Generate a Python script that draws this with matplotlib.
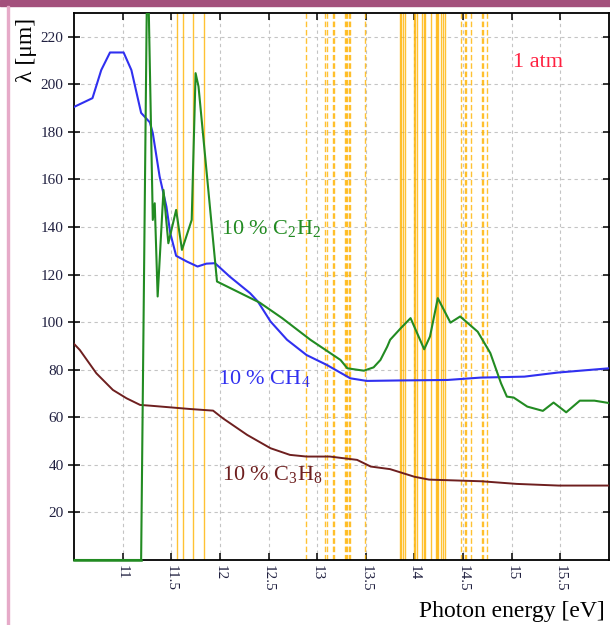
import matplotlib
matplotlib.use('Agg')
import matplotlib.pyplot as plt
from matplotlib.patches import Rectangle
import numpy as np

plt.rcParams['font.family'] = ['Liberation Serif', 'DejaVu Serif']
plt.rcParams['mathtext.fontset'] = 'custom'
plt.rcParams['mathtext.rm'] = 'Liberation Serif'

# 10 % CH4 (blue)
ch4_x = [10.5, 10.69, 10.78, 10.87, 11.01, 11.09, 11.19, 11.28, 11.31, 11.38, 11.45, 11.49,
         11.55, 11.66, 11.77, 11.86, 11.95, 12.1, 12.31, 12.39, 12.52, 12.69, 12.89, 13.1,
         13.34, 13.51, 13.86, 14.34, 14.68, 15.13, 15.47, 16.0]
ch4_y = [190.5, 194.2, 206, 213.4, 213.4, 206, 188, 184, 179.5, 161.3, 148.6, 137.4,
         127.9, 125.5, 123.4, 124.6, 124.8, 119.2, 112.2, 108.7, 100.3, 92.6, 86.2, 82,
         76.4, 75.3, 75.5, 75.7, 76.7, 77.1, 78.8, 80.6]

# 10 % C2H2 (green)
c2h2_x = [10.5, 11.19, 11.255, 11.31, 11.33, 11.36, 11.42, 11.47, 11.55, 11.61, 11.71, 11.75,
          11.78, 11.97, 12.41, 12.64, 12.93, 13.24, 13.31, 13.48, 13.58, 13.65, 13.72, 13.75,
          13.86, 13.96, 14.1, 14.16, 14.24, 14.37, 14.47, 14.65, 14.78, 14.89, 14.95, 15.02,
          15.16, 15.32, 15.43, 15.56, 15.7, 15.85, 16.0]
c2h2_y = [0, 0, 260, 143, 150, 110.8, 155.6, 133.2, 147.2, 130.4, 143, 204.7,
          199.1, 117.1, 108.2, 101.7, 92.6, 84.1, 80.6, 79.6, 81, 84.1, 89.7, 92.6,
          97.5, 101.7, 88.6, 94, 110.1, 99.8, 102.4, 96, 87, 74.3, 68.7, 68.3,
          64.5, 62.7, 66.2, 62.1, 67, 67, 66]

# 10 % C3H8 (brown)
c3h8_x = [10.5, 10.56, 10.73, 10.9, 11.04, 11.18, 11.28, 11.69, 11.93, 12.03, 12.28, 12.52,
          12.72, 12.89, 13.13, 13.41, 13.55, 13.75, 14.0, 14.15, 14.69, 15.05, 15.48, 16.0]
c3h8_y = [90.9, 88.3, 78.5, 71.5, 68, 65.2, 64.9, 63.5, 62.8, 59.6, 52.6, 47,
          44.2, 43.5, 43.5, 42.1, 39.3, 38.2, 35, 33.8, 33.1, 32, 31.3, 31.3]

# line positions (eV)
solid_lines = [11.56, 11.62, 11.725, 11.84,
               13.848, 13.863, 13.884, 13.907, 13.993, 14.01, 14.028, 14.079, 14.096, 14.107,
               14.165, 14.22, 14.234, 14.247, 14.268, 14.292, 14.312]
dashed_lines = [12.89, 13.08, 13.10, 13.16, 13.175, 13.29, 13.30, 13.31, 13.325, 13.335, 13.49,
                14.474, 14.519, 14.533, 14.58, 14.69, 14.704, 14.742]

xticks = [11, 11.5, 12, 12.5, 13, 13.5, 14, 14.5, 15, 15.5]
xtick_labels = ['11', '11.5', '12', '12.5', '13', '13.5', '14', '14.5', '15', '15.5']
yticks = [20, 40, 60, 80, 100, 120, 140, 160, 180, 200, 220]

fig = plt.figure(figsize=(6.1, 6.25), dpi=100)
ax = fig.add_axes([74/610, 65/625, 535/610, 547/625])

# slide frame
fig.patches.append(Rectangle((0, 1 - 6/625), 1, 6/625, transform=fig.transFigure,
                             color='#a3507c', zorder=0))
fig.patches.append(Rectangle((7/610, 0), 1.5/610, 1 - 6/625, transform=fig.transFigure,
                             color='#e6aac8', zorder=0))

for xv in solid_lines:
    ax.axvline(xv, color='#ffb300', lw=1.0, alpha=0.8, zorder=2)
for xv in dashed_lines:
    ax.axvline(xv, color='#ffb300', lw=1.0, alpha=0.8, ls=(0, (4, 2)), zorder=2)

ax.plot(c3h8_x, c3h8_y, color='#6e1f1f', lw=1.4, zorder=3)
ax.plot(ch4_x, ch4_y, color='#3030f0', lw=1.5, zorder=4)
ax.plot(c2h2_x, c2h2_y, color='#228b22', lw=1.5, zorder=5)
# flat zero part sits on the bottom spine
ax.plot(c2h2_x[:2], c2h2_y[:2], color='#228b22', lw=1.8, zorder=6, clip_on=False)

ax.set_xlim(10.5, 16.0)
ax.set_ylim(0, 230)
ax.set_xticks(xticks)
ax.set_xticklabels(xtick_labels, rotation=-90)
ax.set_yticks(yticks)
ax.grid(True, color='#c4c4c4', ls=(0, (3, 3)), lw=0.8, zorder=1)
ax.tick_params(direction='in', top=True, right=True, length=5, width=1.1,
               labelsize=11, labelcolor='#202040')
ax.tick_params(axis='y', direction='inout', length=8)
for s in ax.spines.values():
    s.set_linewidth(1.3)

ax.text(0.275, 0.605, r'10 % C$_\mathregular{2}$H$_\mathregular{2}$', transform=ax.transAxes,
        color='#228b22', fontsize=16, va='center')
ax.text(0.27, 0.33, r'10 % CH$_\mathregular{4}$', transform=ax.transAxes,
        color='#3030f0', fontsize=16, va='center')
ax.text(0.277, 0.155, r'10 % C$_\mathregular{3}$H$_\mathregular{8}$', transform=ax.transAxes,
        color='#6e1f1f', fontsize=16, va='center')
ax.text(0.82, 0.91, '1 atm', transform=ax.transAxes, color='#ff2040', fontsize=16,
        va='center')

fig.text(0.992, 0.022, 'Photon energy [eV]', ha='right', va='center', fontsize=17)
fig.text(0.043, 0.972, 'λ [μm]', rotation=90, ha='center', va='top', fontsize=17)

fig.savefig('out.png', dpi=100)
